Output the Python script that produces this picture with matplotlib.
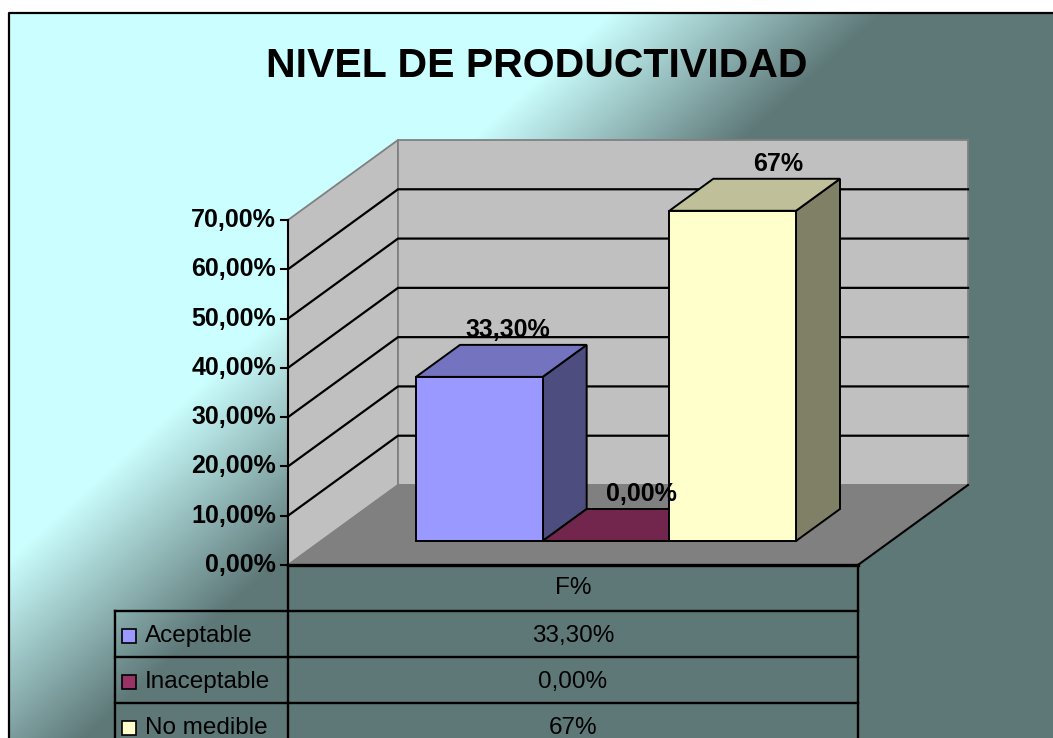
import numpy as np
import matplotlib
matplotlib.use('Agg')
import matplotlib.pyplot as plt
from matplotlib.patches import Polygon, Rectangle

plt.rcParams['font.family'] = ['Liberation Sans', 'DejaVu Sans']

title = 'NIVEL DE PRODUCTIVIDAD'
category = 'F%'
series = ['Aceptable', 'Inaceptable', 'No medible']
values = [33.3, 0.0, 67.0]
value_labels = ['33,30%', '0,00%', '67%']
ticks = [0, 10, 20, 30, 40, 50, 60, 70]
tick_labels = ['0,00%', '10,00%', '20,00%', '30,00%', '40,00%', '50,00%', '60,00%', '70,00%']

front_colors = ['#9999FF', '#993366', '#FFFFCC']
top_colors = ['#7373BF', '#73264D', '#BFBF99']
side_colors = ['#4D4D80', '#4D1A33', '#808066']

W, H = 1053, 738
# front plane of the 3d box in pixels: x 0..1 -> 288..858, value 0..70 -> 565..220
X0, XW = 288, 570
Y0, YH = 565, 345
YMAX = ticks[-1]
DX = 110 / XW              # depth shift, full depth
DY = 80 * YMAX / YH


def px(x, y):
    # pixel position (from top-left) -> data coords, used for layout only
    return (x - X0) / XW, (Y0 - y) * YMAX / YH


def proj(x, v, d):
    return x + d * DX, v + d * DY


fig = plt.figure(figsize=(W / 100, H / 100), dpi=100)
ax = fig.add_axes([0, 0, 1, 1])
xl = (px(0, 0)[0], px(W, 0)[0])
yl = (px(0, H)[1], px(0, 0)[1])
ax.set_xlim(*xl)
ax.set_ylim(*yl)
ax.axis('off')

# background gradient
yy, xx = np.mgrid[0:H, 0:W]
t = xx / 760 + yy / 690
s = np.clip((t - 0.82) / 0.36, 0, 1)[..., None]
light = np.array([0.80, 1.0, 1.0])
dark = np.array([0.37, 0.47, 0.47])
img = light * (1 - s) + dark * s
img[:13, :] = 1
img[:, :9] = 1
ax.imshow(img, extent=(xl[0], xl[1], yl[0], yl[1]), origin='upper', aspect='auto', zorder=0)

# outer frame
fx, fy = zip(px(9, H + 5), px(9, 13), px(W + 5, 13))
ax.plot(fx, fy, color='black', lw=1.6, zorder=1, solid_capstyle='projecting')

# walls and floor
wall_kw = dict(fc='#C0C0C0', ec='#808080', lw=1.3, zorder=2)
ax.add_patch(Polygon([proj(0, 0, 0), proj(0, YMAX, 0), proj(0, YMAX, 1), proj(0, 0, 1)], **wall_kw))
ax.add_patch(Polygon([proj(0, 0, 1), proj(0, YMAX, 1), proj(1, YMAX, 1), proj(1, 0, 1)], **wall_kw))
ax.add_patch(Polygon([proj(0, 0, 0), proj(1, 0, 0), proj(1, 0, 1), proj(0, 0, 1)],
                     fc='#808080', ec='#808080', lw=1, zorder=2))

for tv in ticks[1:-1]:
    a, b, c = proj(0, tv, 0), proj(0, tv, 1), proj(1, tv, 1)
    ax.plot([a[0], b[0], c[0]], [a[1], b[1], c[1]], color='black', lw=1.6, zorder=3)

# value axis
ax.plot([0, 0], [0, YMAX], color='black', lw=1.5, zorder=4)
tick_x = px(281, 0)[0]
for tv, tl in zip(ticks, tick_labels):
    ax.plot([tick_x, 0], [tv, tv], color='black', lw=1.5, zorder=4)
    ax.text(px(276, 0)[0], tv, tl, ha='right', va='center', fontsize=18,
            fontweight='bold', zorder=5)

# floor edges
ax.plot([0, 1], [0, 0], color='black', lw=2.4, zorder=4)
a, b = proj(1, 0, 0), proj(1, 0, 1)
ax.plot([a[0], b[0]], [a[1], b[1]], color='black', lw=1.5, zorder=4)

# bars
gap = 1 / 6
bw = (1 - 2 * gap) / len(values)
d0, d1 = 0.3, 0.7
for i, v in enumerate(values):
    x0 = gap + i * bw
    x1 = x0 + bw
    front = [proj(x0, 0, d0), proj(x1, 0, d0), proj(x1, v, d0), proj(x0, v, d0)]
    side = [proj(x1, 0, d0), proj(x1, 0, d1), proj(x1, v, d1), proj(x1, v, d0)]
    top = [proj(x0, v, d0), proj(x1, v, d0), proj(x1, v, d1), proj(x0, v, d1)]
    z = 5 + i
    ax.add_patch(Polygon(side, fc=side_colors[i], ec='black', lw=1.4, zorder=z))
    ax.add_patch(Polygon(top, fc=top_colors[i], ec='black', lw=1.4, zorder=z))
    ax.add_patch(Polygon(front, fc=front_colors[i], ec='black', lw=1.4, zorder=z))
    ax.annotate(value_labels[i], proj((x0 + x1) / 2, v, 0.5), xytext=(49, 31),
                textcoords='offset pixels', ha='right', va='center', fontsize=18,
                fontweight='bold', zorder=10)

# title
tx, ty = px(537, 66)
ax.text(tx, ty, title, ha='center', va='center', fontsize=29.5, fontweight='bold', zorder=5)

# data table
rh = 46 * YMAX / YH
left = px(115, 0)[0]
bottom = yl[0] - 1
tab_kw = dict(color='black', lw=1.7, zorder=4)
ax.plot([0, 0], [0, bottom], **tab_kw)
ax.plot([1, 1], [0, bottom], **tab_kw)
ax.plot([left, left], [-rh, bottom], **tab_kw)
for k in range(1, len(series) + 1):
    ax.plot([left, 1], [-rh * k, -rh * k], **tab_kw)

ax.text(0.5, -rh * 0.5, category, ha='center', va='center', fontsize=17.5, zorder=5)
key_w = 14 / XW
key_h = 14 * YMAX / YH
text_x = px(145, 0)[0]
key_x = px(122, 0)[0]
for k, (name, lab) in enumerate(zip(series, value_labels)):
    yc = -rh * (k + 1.5) - 2 * YMAX / YH
    ax.add_patch(Rectangle((key_x, yc - key_h / 2), key_w, key_h, fc=front_colors[k],
                           ec='black', lw=1.2, zorder=5))
    ax.text(text_x, yc, name, ha='left', va='center', fontsize=17.5, zorder=5)
    ax.text(0.5, yc, lab, ha='center', va='center', fontsize=17.5, zorder=5)

fig.savefig('out.png', dpi=100)
